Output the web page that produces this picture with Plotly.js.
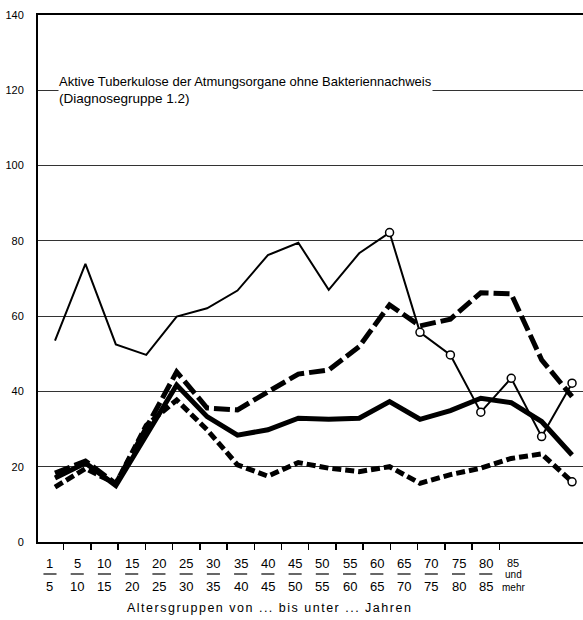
<!DOCTYPE html>
<html>
<head>
<meta charset="utf-8">
<script src="https://cdn.plot.ly/plotly-3.0.1.min.js"></script>
<style>
html,body{margin:0;padding:0;background:#fff;}
#chart{width:583px;height:620px;}
</style>
</head>
<body>
<div id="chart"></div>
<script>
// Age groups (categories)
const categories = ['1–5','5–10','10–15','15–20','20–25','25–30','30–35','35–40','40–45','45–50','50–55','55–60','60–65','65–70','70–75','75–80','80–85','85 und mehr'];
// Tick labels (upper / lower part of each age-group label)
const tickTop    = ['1','5','10','15','20','25','30','35','40','45','50','55','60','65','70','75','80','85'];
const tickBottom = ['5','10','15','20','25','30','35','40','45','50','55','60','65','70','75','80','85','und<br>mehr'];

// Series values
const thinLine   = [53.5,73.9,52.5,49.7,59.9,62.1,66.8,76.2,79.5,67.0,76.7,82.2,55.7,49.7,34.5,43.5,28.0,42.2];
const thinCircle = [0,0,0,0,0,0,0,0,0,0,0,1,1,1,1,1,1,1];
const longDash   = [18.3,21.5,15.5,30.5,45.2,35.6,35.1,39.9,44.6,45.7,51.9,63.0,57.4,59.2,66.2,65.9,48.4,38.6];
const thickSolid = [17.0,21.0,15.0,28.5,41.7,33.3,28.4,29.8,32.9,32.6,32.9,37.3,32.6,34.9,38.2,37.0,32.0,23.1];
const shortDash  = [14.6,19.5,15.5,31.0,37.7,29.8,20.5,17.5,21.1,19.6,18.7,20.0,15.6,17.9,19.6,22.2,23.4,16.0];
const shortCircle= [0,0,0,0,0,0,0,0,0,0,0,0,0,0,0,0,0,1];

const FONT = '"Liberation Sans",Arial,sans-serif';

function circleMarker(flags){
  return {symbol:'circle', size:8, color:'#fff',
          opacity: flags.map(f=>f?1:0),
          line:{color:'#000', width:1.5}};
}

const traces = [
  {x:categories, y:longDash, type:'scatter', mode:'lines',
   line:{color:'#000', width:5, dash:'16px,5px'}, hoverinfo:'skip'},
  {x:categories, y:thickSolid, type:'scatter', mode:'lines',
   line:{color:'#000', width:5}, hoverinfo:'skip'},
  {x:categories, y:shortDash, type:'scatter', mode:'lines+markers',
   line:{color:'#000', width:5, dash:'9px,4px'}, marker:circleMarker(shortCircle), hoverinfo:'skip'},
  {x:categories, y:thinLine, type:'scatter', mode:'lines+markers',
   line:{color:'#000', width:2}, marker:circleMarker(thinCircle), hoverinfo:'skip'},
  // carrier for the label axis
  {x:[0], y:[-50], xaxis:'x2', type:'scatter', mode:'markers', marker:{opacity:0}, hoverinfo:'skip', showlegend:false}
];

const annotations = [];
const shapes = [];
tickTop.forEach((t,i)=>{
  const last = (i === tickTop.length-1);
  annotations.push({xref:'x2', yref:'paper', x:i, y:0, yanchor:'middle', yshift:-21,
    text:t, showarrow:false, font:{family:FONT, size:last?11:13, color:'#000'}});
  if(!last){
    annotations.push({xref:'x2', yref:'paper', x:i, y:0, yanchor:'middle', yshift:-44,
      text:tickBottom[i], showarrow:false, font:{family:FONT, size:13, color:'#000'}});
    shapes.push({type:'line', xref:'x2', yref:'paper', x0:i-0.24, x1:i+0.24,
      ysizemode:'pixel', yanchor:0, y0:-32, y1:-32, line:{color:'#000', width:1.2}});
  } else {
    annotations.push({xref:'x2', yref:'paper', x:i, y:0, yanchor:'top', yshift:-25,
      text:tickBottom[i], showarrow:false, font:{family:FONT, size:10, color:'#000'}});
  }
});

// Title block (covers the 120 gridline like in the original)
annotations.push({xref:'paper', yref:'y', x:0.036, y:120, xanchor:'left', yanchor:'middle',
  align:'left', showarrow:false, bgcolor:'#fff', borderpad:0,
  text:'Aktive Tuberkulose der Atmungsorgane ohne Bakteriennachweis<br><span style="font-size:13.5px">(Diagnosegruppe 1.2)</span>',
  font:{family:FONT, size:13, color:'#000'}});

// X axis title
annotations.push({xref:'paper', yref:'paper', x:0.425, y:0, yanchor:'middle', yshift:-66,
  showarrow:false,
  text:'<span style="letter-spacing:1.5px">Altersgruppen von ... bis unter ... Jahren</span>',
  font:{family:FONT, size:12.5, color:'#000'}});

const layout = {
  width:583, height:620,
  margin:{l:38, r:0, t:15, b:78},
  paper_bgcolor:'#fff', plot_bgcolor:'#fff',
  showlegend:false,
  xaxis:{type:'category', range:[-0.559, 17.36], visible:false, showgrid:false, zeroline:false},
  xaxis2:{type:'linear', overlaying:'x', anchor:'y', side:'bottom', range:[-0.44, 19.57],
    showgrid:false, zeroline:false, showticklabels:false,
    tickmode:'array', tickvals:tickTop.slice(0,-1).map((_,i)=>i+0.5),
    ticks:'outside', ticklen:6, tickwidth:1.5, tickcolor:'#000',
    showline:true, mirror:true, linewidth:2, linecolor:'#000'},
  yaxis:{range:[0,140], tickmode:'array', tickvals:[0,20,40,60,80,100,120,140],
    ticktext:['0','20','40','60','80','100','120','140'],
    showgrid:true, gridcolor:'#333', gridwidth:1, zeroline:false,
    showline:true, linewidth:2, linecolor:'#000', ticks:'', ticklabelstandoff:10,
    tickfont:{family:FONT, size:11, color:'#000'}},
  annotations:annotations,
  shapes:shapes
};

Plotly.newPlot('chart', traces, layout, {displayModeBar:false, staticPlot:true});
</script>
</body>
</html>
